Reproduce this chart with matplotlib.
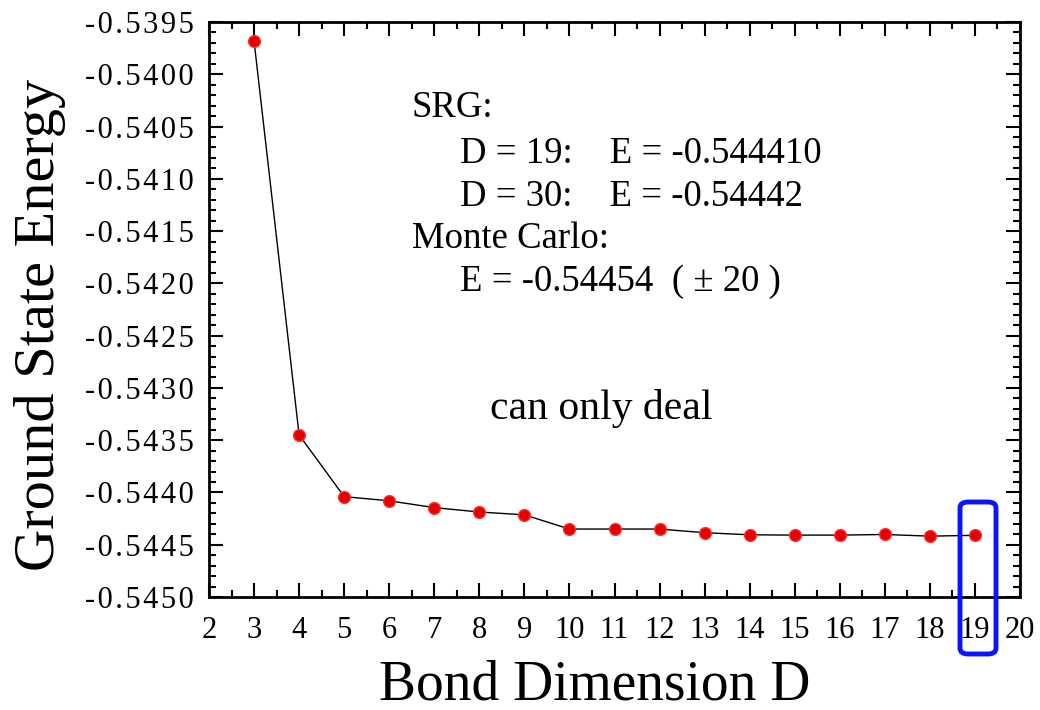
import matplotlib
matplotlib.use("Agg")
import matplotlib.pyplot as plt
from matplotlib.ticker import MultipleLocator, FuncFormatter
from matplotlib.patches import FancyBboxPatch

bond_dim = [3, 4, 5, 6, 7, 8, 9, 10, 11, 12, 13, 14, 15, 16, 17, 18, 19]
energy = [-0.539682, -0.543450, -0.544040, -0.544080, -0.544145, -0.544187,
          -0.544214, -0.544350, -0.544350, -0.544350, -0.544385, -0.544405,
          -0.544408, -0.544408, -0.544402, -0.544418, -0.544410]

srg_lines = ['SRG:', 'D = 19:    E = -0.544410', 'D = 30:    E = -0.54442']
mc_lines = ['Monte Carlo:', 'E = -0.54454  ( ± 20 )']
note = 'can only deal'

plt.rcParams['font.family'] = ['Liberation Serif', 'DejaVu Serif']

fig = plt.figure(figsize=(10.4, 7.1), dpi=100)
ax = fig.add_axes([209/1040, 1-597/710, (1020-209)/1040, (597-22)/710])

ax.plot(bond_dim, energy, color='black', lw=1.0, zorder=2)
ax.plot(bond_dim, energy, 'o', color='#e60000', markeredgecolor='#ff3030',
        markersize=8.5, zorder=3, lw=0)

ax.set_xlim(2, 20)
ax.set_ylim(-0.5450, -0.5395)
ax.xaxis.set_major_locator(MultipleLocator(1))
ax.xaxis.set_minor_locator(MultipleLocator(0.5))
ax.yaxis.set_major_locator(MultipleLocator(0.0005))
ax.yaxis.set_minor_locator(MultipleLocator(0.0001))


def spaced(v, pos):
    s = '%.4f' % v
    return '\u200a'.join(s)


ax.yaxis.set_major_formatter(FuncFormatter(spaced))

ax.tick_params(which='both', direction='in', top=True, right=True, width=1.5)
ax.tick_params(which='major', length=10, labelsize=22)
ax.tick_params(axis='y', which='major', pad=11)
ax.tick_params(axis='x', which='major', pad=14)
ax.tick_params(which='minor', length=5)
for s in ax.spines.values():
    s.set_linewidth(2)

ax.set_xlabel('Bond Dimension D', fontsize=40)
ax.xaxis.set_label_coords((595-209)/811, (597-659)/575)
ax.set_ylabel('Ground State Energy', fontsize=42)
ax.yaxis.set_label_coords((66-209)/811, (597-325)/575)

fs = 26.5
tf = fig.transFigure
ax.text(412/1040, 1-117/710, srg_lines[0], transform=tf, fontsize=fs, va='baseline', ha='left')
ax.text(460/1040, 1-163/710, srg_lines[1], transform=tf, fontsize=fs, va='baseline', ha='left')
ax.text(460/1040, 1-206/710, srg_lines[2], transform=tf, fontsize=fs, va='baseline', ha='left')
ax.text(412/1040, 1-248/710, mc_lines[0], transform=tf, fontsize=fs, va='baseline', ha='left')
ax.text(460/1040, 1-291/710, mc_lines[1], transform=tf, fontsize=fs, va='baseline', ha='left')
ax.text(490/1040, 1-419/710, note, transform=tf, fontsize=30, va='baseline', ha='left')

box = FancyBboxPatch((960/1040, 1-654/710), (996-960)/1040, (654-502)/710,
                     boxstyle='round,pad=0,rounding_size=0.008',
                     transform=tf, fill=False, edgecolor='#0a14ff', lw=3.5)
fig.add_artist(box)

fig.savefig('out.png', dpi=100)
